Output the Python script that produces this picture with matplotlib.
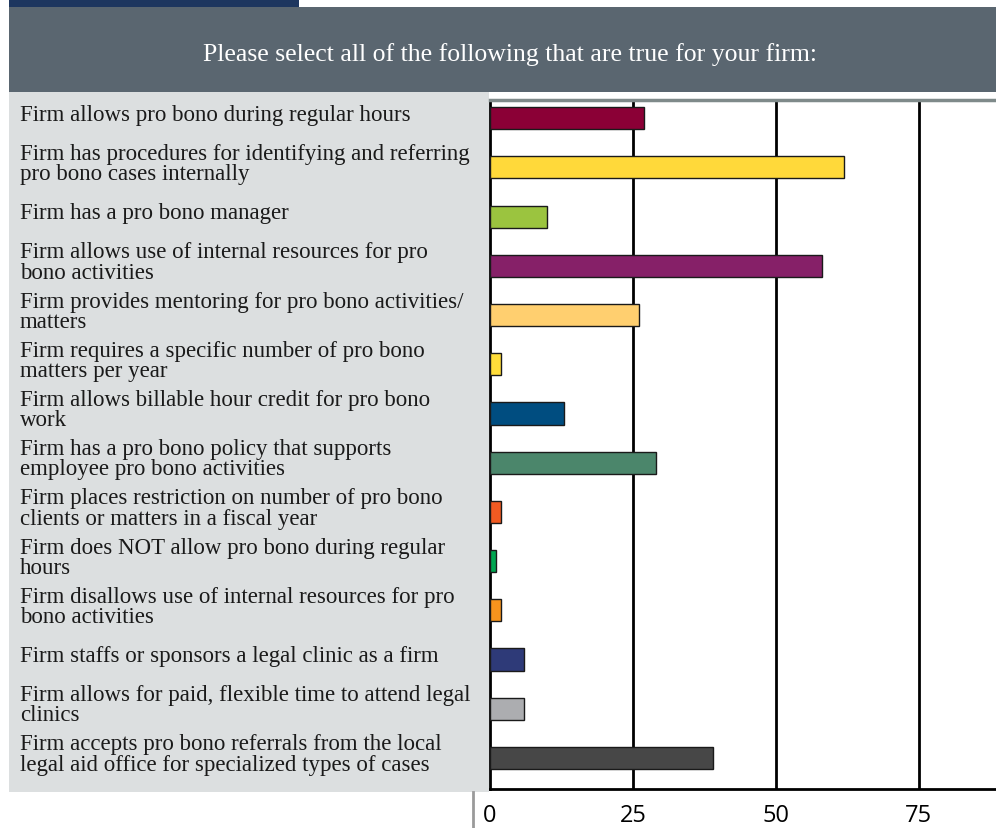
import numpy as np
import matplotlib.pyplot as plt
from matplotlib.patches import Rectangle
from matplotlib.lines import Line2D
from matplotlib.transforms import blended_transform_factory

title = "Please select all of the following that are true for your firm:"
labels = [
    "Firm allows pro bono during regular hours",
    "Firm has procedures for identifying and referring\npro bono cases internally",
    "Firm has a pro bono manager",
    "Firm allows use of internal resources for pro\nbono activities",
    "Firm provides mentoring for pro bono activities/\nmatters",
    "Firm requires a specific number of pro bono\nmatters per year",
    "Firm allows billable hour credit for pro bono\nwork",
    "Firm has a pro bono policy that supports\nemployee pro bono activities",
    "Firm places restriction on number of pro bono\nclients or matters in a fiscal year",
    "Firm does NOT allow pro bono during regular\nhours",
    "Firm disallows use of internal resources for pro\nbono activities",
    "Firm staffs or sponsors a legal clinic as a firm",
    "Firm allows for paid, flexible time to attend legal\nclinics",
    "Firm accepts pro bono referrals from the local\nlegal aid office for specialized types of cases",
]
values = [27, 62, 10, 58, 26, 2, 13, 29, 2, 1, 2, 6, 6, 39]
colors = ["#8b0036", "#ffd93a", "#9bc43f", "#862068", "#ffcf6f", "#ffdd3a", "#004d80",
          "#4b866b", "#f15a22", "#00a651", "#f7941d", "#2e3a78", "#acadb0", "#474747"]
ticks = [0, 25, 50, 75]

W, H = 996, 829
fig = plt.figure(figsize=(W / 100, H / 100), dpi=100)

# background blocks
fig.add_artist(Rectangle((9 / W, 1 - 8 / H), 290 / W, 8 / H, transform=fig.transFigure,
                         color="#1d365f", lw=0, zorder=0))
fig.add_artist(Rectangle((9 / W, 1 - 93 / H), 987 / W, 85 / H, transform=fig.transFigure,
                         color="#5a6670", lw=0, zorder=0))
fig.add_artist(Rectangle((9 / W, 1 - 793 / H), 480 / W, 700 / H, transform=fig.transFigure,
                         color="#dcdfe0", lw=0, zorder=0))
fig.add_artist(Line2D([473 / W, 473 / W], [0, 1 - 793 / H], transform=fig.transFigure,
                      color="#9a9a9a", lw=2))
fig.text(510 / W, 1 - 55 / H, title, color="white", fontsize=18.5,
         family="Liberation Serif", ha="center", va="center")

ax = fig.add_axes([490 / W, 39 / H, 506 / W, 689 / H])
ax.set_zorder(1)
ax.patch.set_alpha(0)
y = np.arange(len(values))
ax.barh(y, values, height=0.45, color=colors, edgecolor="#1a1a1a", linewidth=1, zorder=3)
ax.set_xlim(0, 88.5)
ax.set_ylim(13.63, -0.37)
ax.set_yticks([])
ax.set_xticks(ticks)
ax.set_xticklabels([str(t) for t in ticks], family="Open Sans", fontsize=17)
ax.tick_params(axis="x", length=0, pad=10)
for t in ticks[1:]:
    ax.axvline(t, color="black", lw=2, zorder=1)
ax.spines["right"].set_visible(False)
ax.spines["top"].set_color("#7f8a8a")
ax.spines["top"].set_linewidth(2.5)
ax.spines["left"].set_linewidth(2)
ax.spines["bottom"].set_linewidth(2)

tr = blended_transform_factory(fig.transFigure, ax.transData)
for yi, lab in zip(y, labels):
    ax.text(20 / W, yi - 0.08, lab, transform=tr, ha="left", va="center", fontsize=16.5,
            family="Liberation Serif", color="#1a1a1a", linespacing=0.95, clip_on=False)

fig.savefig("out.png", dpi=100)
